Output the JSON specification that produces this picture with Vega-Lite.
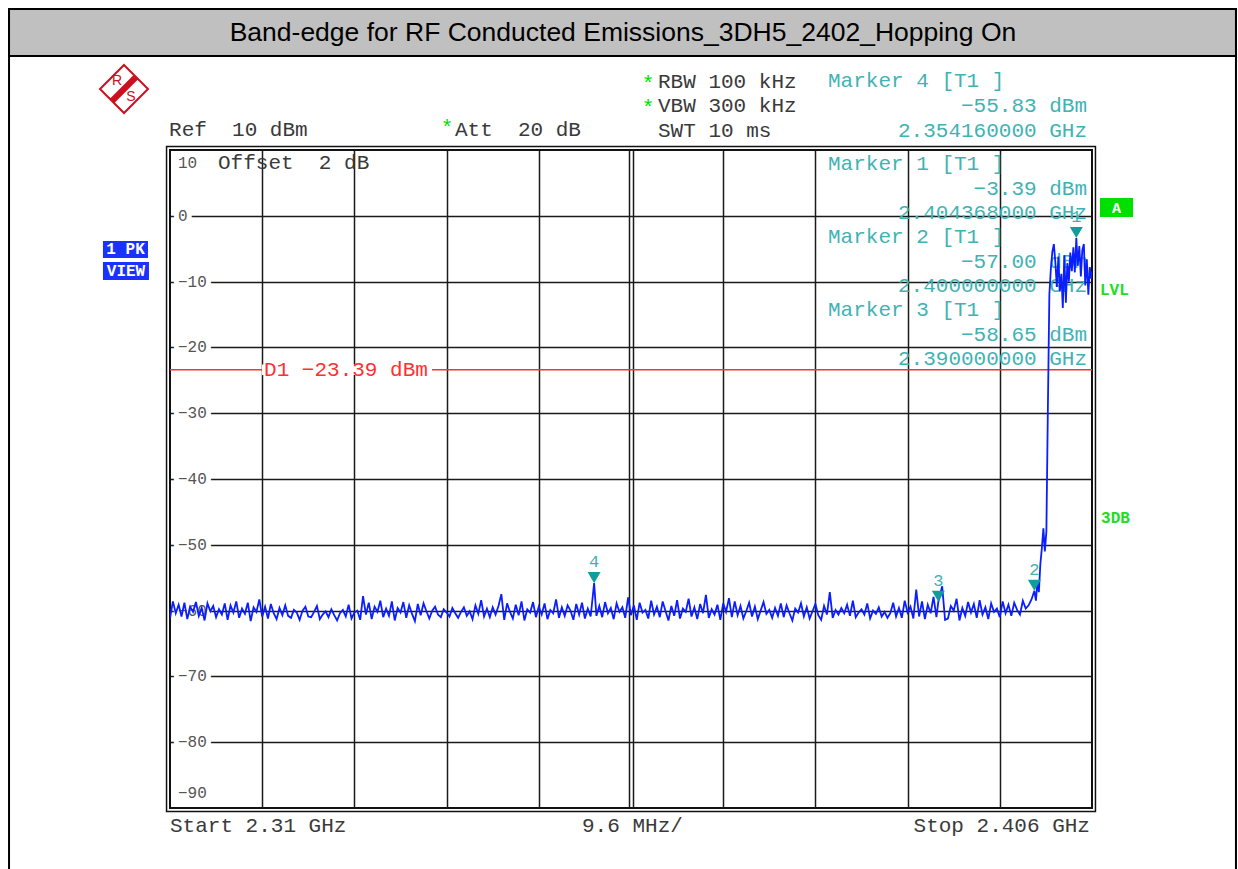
{
"$schema": "https://vega.github.io/schema/vega-lite/v6.json",
"width": 922, "height": 658,
"autosize": {"type": "none"},
"padding": {"left": 170, "top": 150, "right": 146, "bottom": 61},
"background": "#ffffff",
"title": {"text": "Band-edge for RF Conducted Emissions_3DH5_2402_Hopping On", "font": "Liberation Sans", "fontSize": 26.5, "fontWeight": "normal", "color": "#000000", "anchor": "middle", "frame": "group", "offset": -39, "dx": -8},
"config": {"view": {"stroke": "#111111", "strokeWidth": 2, "fill": "#ffffff"}, "text": {"font": "Liberation Mono"}},
"data": {"values": [{}]},
"datasets": {
"markers": [
{"f": 2404.368, "v": -3.39, "n": "1"},
{"f": 2400.0, "v": -57.0, "n": "2"},
{"f": 2390.0, "v": -58.65, "n": "3"},
{"f": 2354.16, "v": -55.83, "n": "4"}
],
"ylabels": [
{"lv": 0, "t": "0"}, {"lv": -10, "t": "−10"}, {"lv": -20, "t": "−20"}, {"lv": -30, "t": "−30"}, {"lv": -40, "t": "−40"},
{"lv": -50, "t": "−50"}, {"lv": -60, "t": "−60"}, {"lv": -70, "t": "−70"}, {"lv": -80, "t": "−80"}
],
"trace": [
{"f":2310.0,"v":-61.2},{"f":2310.3,"v":-58.6},{"f":2310.6,"v":-60.4},{"f":2310.9,"v":-59.1},{"f":2311.2,"v":-60.9},{"f":2311.5,"v":-58.8},{"f":2311.8,"v":-61.3},{"f":2312.1,"v":-59.4},{"f":2312.4,"v":-60.2},{"f":2312.7,"v":-58.7},
{"f":2313.0,"v":-60.8},{"f":2313.3,"v":-59.6},{"f":2313.6,"v":-61.5},{"f":2313.9,"v":-58.9},{"f":2314.2,"v":-60.1},{"f":2314.5,"v":-59.3},{"f":2314.8,"v":-61.0},{"f":2315.1,"v":-59.8},{"f":2315.4,"v":-60.6},{"f":2315.7,"v":-58.9},
{"f":2316.0,"v":-61.4},{"f":2316.3,"v":-59.2},{"f":2316.6,"v":-60.3},{"f":2316.9,"v":-58.6},{"f":2317.2,"v":-61.1},{"f":2317.5,"v":-59.7},{"f":2317.8,"v":-60.5},{"f":2318.1,"v":-58.8},{"f":2318.4,"v":-61.6},{"f":2318.7,"v":-59.5},
{"f":2319.0,"v":-60.2},{"f":2319.3,"v":-58.3},{"f":2319.6,"v":-60.9},{"f":2319.9,"v":-59.4},{"f":2320.2,"v":-61.2},{"f":2320.5,"v":-59.0},{"f":2320.8,"v":-60.4},{"f":2321.1,"v":-61.3},{"f":2321.4,"v":-59.6},{"f":2321.7,"v":-60.7},
{"f":2322.0,"v":-59.2},{"f":2322.3,"v":-60.8},{"f":2322.6,"v":-61.1},{"f":2322.9,"v":-59.9},{"f":2323.2,"v":-60.3},{"f":2323.5,"v":-61.4},{"f":2323.8,"v":-60.0},{"f":2324.1,"v":-59.4},{"f":2324.4,"v":-60.9},{"f":2324.7,"v":-61.0},
{"f":2325.0,"v":-60.2},{"f":2325.3,"v":-59.3},{"f":2325.6,"v":-61.3},{"f":2325.9,"v":-60.6},{"f":2326.2,"v":-60.1},{"f":2326.5,"v":-61.0},{"f":2326.8,"v":-59.8},{"f":2327.1,"v":-60.7},{"f":2327.4,"v":-61.5},{"f":2327.7,"v":-60.4},
{"f":2328.0,"v":-59.9},{"f":2328.3,"v":-60.9},{"f":2328.6,"v":-59.1},{"f":2328.9,"v":-61.2},{"f":2329.2,"v":-60.3},{"f":2329.5,"v":-60.0},{"f":2329.8,"v":-61.4},{"f":2330.1,"v":-57.8},{"f":2330.4,"v":-60.6},{"f":2330.7,"v":-58.8},
{"f":2331.0,"v":-61.3},{"f":2331.3,"v":-59.4},{"f":2331.6,"v":-60.2},{"f":2331.9,"v":-58.5},{"f":2332.2,"v":-61.0},{"f":2332.5,"v":-59.7},{"f":2332.8,"v":-60.8},{"f":2333.1,"v":-58.6},{"f":2333.4,"v":-61.5},{"f":2333.7,"v":-59.6},
{"f":2334.0,"v":-60.3},{"f":2334.3,"v":-58.7},{"f":2334.6,"v":-61.1},{"f":2334.9,"v":-59.2},{"f":2335.2,"v":-60.5},{"f":2335.5,"v":-61.6},{"f":2335.8,"v":-59.0},{"f":2336.1,"v":-60.7},{"f":2336.4,"v":-58.9},{"f":2336.7,"v":-60.1},
{"f":2337.0,"v":-61.2},{"f":2337.3,"v":-60.0},{"f":2337.6,"v":-59.4},{"f":2337.9,"v":-60.6},{"f":2338.2,"v":-61.0},{"f":2338.5,"v":-59.8},{"f":2338.8,"v":-60.3},{"f":2339.1,"v":-60.9},{"f":2339.4,"v":-59.6},{"f":2339.7,"v":-60.4},
{"f":2340.0,"v":-61.1},{"f":2340.3,"v":-60.2},{"f":2340.6,"v":-59.5},{"f":2340.9,"v":-60.8},{"f":2341.2,"v":-60.1},{"f":2341.5,"v":-61.3},{"f":2341.8,"v":-59.2},{"f":2342.1,"v":-60.5},{"f":2342.4,"v":-58.4},{"f":2342.7,"v":-60.9},
{"f":2343.0,"v":-59.7},{"f":2343.3,"v":-61.0},{"f":2343.6,"v":-59.5},{"f":2343.9,"v":-60.6},{"f":2344.2,"v":-59.3},{"f":2344.5,"v":-57.5},{"f":2344.8,"v":-61.4},{"f":2345.1,"v":-58.9},{"f":2345.4,"v":-60.2},{"f":2345.7,"v":-61.2},
{"f":2346.0,"v":-59.1},{"f":2346.3,"v":-60.7},{"f":2346.6,"v":-58.6},{"f":2346.9,"v":-61.5},{"f":2347.2,"v":-59.8},{"f":2347.5,"v":-60.3},{"f":2347.8,"v":-58.7},{"f":2348.1,"v":-61.0},{"f":2348.4,"v":-59.4},{"f":2348.7,"v":-60.6},
{"f":2349.0,"v":-58.9},{"f":2349.3,"v":-61.3},{"f":2349.6,"v":-59.9},{"f":2349.9,"v":-60.4},{"f":2350.2,"v":-58.3},{"f":2350.5,"v":-61.1},{"f":2350.8,"v":-59.5},{"f":2351.1,"v":-60.8},{"f":2351.4,"v":-59.2},{"f":2351.7,"v":-60.0},
{"f":2352.0,"v":-61.4},{"f":2352.3,"v":-59.0},{"f":2352.6,"v":-60.6},{"f":2352.9,"v":-58.8},{"f":2353.2,"v":-61.2},{"f":2353.5,"v":-59.7},{"f":2353.8,"v":-60.9},{"f":2354.16,"v":-55.83},{"f":2354.4,"v":-60.8},{"f":2354.7,"v":-59.3},
{"f":2355.0,"v":-61.0},{"f":2355.3,"v":-58.7},{"f":2355.6,"v":-60.4},{"f":2355.9,"v":-59.6},{"f":2356.2,"v":-61.3},{"f":2356.5,"v":-58.9},{"f":2356.8,"v":-60.2},{"f":2357.1,"v":-59.5},{"f":2357.4,"v":-61.1},{"f":2357.7,"v":-58.0},
{"f":2358.0,"v":-60.7},{"f":2358.3,"v":-59.2},{"f":2358.6,"v":-61.4},{"f":2358.9,"v":-58.8},{"f":2359.2,"v":-60.3},{"f":2359.5,"v":-59.9},{"f":2359.8,"v":-61.2},{"f":2360.1,"v":-58.5},{"f":2360.4,"v":-60.6},{"f":2360.7,"v":-59.4},
{"f":2361.0,"v":-61.0},{"f":2361.3,"v":-58.6},{"f":2361.6,"v":-60.1},{"f":2361.9,"v":-61.5},{"f":2362.2,"v":-59.3},{"f":2362.5,"v":-60.8},{"f":2362.8,"v":-58.4},{"f":2363.1,"v":-61.2},{"f":2363.4,"v":-59.7},{"f":2363.7,"v":-60.2},
{"f":2364.0,"v":-58.2},{"f":2364.3,"v":-60.9},{"f":2364.6,"v":-59.5},{"f":2364.9,"v":-61.3},{"f":2365.2,"v":-59.0},{"f":2365.5,"v":-60.4},{"f":2365.8,"v":-57.6},{"f":2366.1,"v":-61.1},{"f":2366.4,"v":-59.8},{"f":2366.7,"v":-60.6},
{"f":2367.0,"v":-59.1},{"f":2367.3,"v":-61.4},{"f":2367.6,"v":-58.9},{"f":2367.9,"v":-60.2},{"f":2368.2,"v":-58.1},{"f":2368.5,"v":-61.0},{"f":2368.8,"v":-58.6},{"f":2369.1,"v":-60.7},{"f":2369.4,"v":-59.3},{"f":2369.7,"v":-61.2},
{"f":2370.0,"v":-60.1},{"f":2370.3,"v":-58.8},{"f":2370.6,"v":-60.9},{"f":2370.9,"v":-59.4},{"f":2371.2,"v":-61.3},{"f":2371.5,"v":-60.0},{"f":2371.8,"v":-58.7},{"f":2372.1,"v":-60.5},{"f":2372.4,"v":-59.9},{"f":2372.7,"v":-61.1},
{"f":2373.0,"v":-59.6},{"f":2373.3,"v":-60.8},{"f":2373.6,"v":-58.9},{"f":2373.9,"v":-61.0},{"f":2374.2,"v":-59.2},{"f":2374.5,"v":-60.4},{"f":2374.8,"v":-61.5},{"f":2375.1,"v":-59.7},{"f":2375.4,"v":-60.3},{"f":2375.7,"v":-58.9},
{"f":2376.0,"v":-60.9},{"f":2376.3,"v":-59.5},{"f":2376.6,"v":-61.2},{"f":2376.9,"v":-60.1},{"f":2377.2,"v":-59.0},{"f":2377.5,"v":-60.7},{"f":2377.8,"v":-61.4},{"f":2378.1,"v":-59.3},{"f":2378.4,"v":-60.6},{"f":2378.7,"v":-57.2},
{"f":2379.0,"v":-61.1},{"f":2379.3,"v":-59.9},{"f":2379.6,"v":-60.6},{"f":2379.9,"v":-59.6},{"f":2380.2,"v":-60.4},{"f":2380.5,"v":-59.1},{"f":2380.8,"v":-60.8},{"f":2381.1,"v":-58.5},{"f":2381.4,"v":-61.0},{"f":2381.7,"v":-60.3},
{"f":2382.0,"v":-59.8},{"f":2382.3,"v":-60.6},{"f":2382.6,"v":-58.9},{"f":2382.9,"v":-61.2},{"f":2383.2,"v":-60.0},{"f":2383.5,"v":-60.5},{"f":2383.8,"v":-59.5},{"f":2384.1,"v":-60.9},{"f":2384.4,"v":-60.2},{"f":2384.7,"v":-61.1},
{"f":2385.0,"v":-60.4},{"f":2385.3,"v":-58.8},{"f":2385.6,"v":-60.9},{"f":2385.9,"v":-59.6},{"f":2386.2,"v":-61.1},{"f":2386.5,"v":-58.5},{"f":2386.8,"v":-60.3},{"f":2387.1,"v":-59.4},{"f":2387.4,"v":-61.2},{"f":2387.7,"v":-56.8},
{"f":2388.0,"v":-60.9},{"f":2388.3,"v":-58.6},{"f":2388.6,"v":-61.3},{"f":2388.9,"v":-59.1},{"f":2389.2,"v":-60.4},{"f":2389.5,"v":-57.9},{"f":2389.8,"v":-61.0},{"f":2390.0,"v":-58.65},{"f":2390.4,"v":-56.3},{"f":2390.7,"v":-61.4},
{"f":2391.0,"v":-61.2},{"f":2391.3,"v":-59.3},{"f":2391.6,"v":-60.0},{"f":2391.9,"v":-58.2},{"f":2392.2,"v":-61.5},{"f":2392.5,"v":-59.6},{"f":2392.8,"v":-60.8},{"f":2393.1,"v":-58.7},{"f":2393.4,"v":-60.3},{"f":2393.7,"v":-59.0},
{"f":2394.0,"v":-61.1},{"f":2394.3,"v":-58.4},{"f":2394.6,"v":-60.6},{"f":2394.9,"v":-59.5},{"f":2395.2,"v":-61.3},{"f":2395.5,"v":-58.9},{"f":2395.8,"v":-60.2},{"f":2396.1,"v":-59.7},{"f":2396.4,"v":-61.0},{"f":2396.7,"v":-58.6},
{"f":2397.0,"v":-60.4},{"f":2397.3,"v":-59.1},{"f":2397.6,"v":-60.8},{"f":2397.9,"v":-58.8},{"f":2398.2,"v":-59.9},{"f":2398.5,"v":-60.6},{"f":2398.8,"v":-58.5},{"f":2399.1,"v":-59.7},{"f":2399.4,"v":-59.2},{"f":2399.7,"v":-58.3},
{"f":2400.0,"v":-57.0},{"f":2400.16,"v":-58.5},{"f":2400.31,"v":-55.8},{"f":2400.47,"v":-57.2},{"f":2400.62,"v":-53.0},{"f":2400.78,"v":-50.5},{"f":2400.94,"v":-47.5},{"f":2401.09,"v":-51.0},{"f":2401.25,"v":-48.0},{"f":2401.4,"v":-30.0},
{"f":2401.56,"v":-12.0},{"f":2401.72,"v":-8.0},{"f":2401.87,"v":-5.5},{"f":2402.03,"v":-4.3},{"f":2402.18,"v":-7.0},{"f":2402.34,"v":-10.8},{"f":2402.5,"v":-6.2},{"f":2402.65,"v":-11.5},{"f":2402.81,"v":-8.8},{"f":2402.96,"v":-14.0},
{"f":2403.12,"v":-6.0},{"f":2403.28,"v":-13.2},{"f":2403.43,"v":-7.2},{"f":2403.59,"v":-10.0},{"f":2403.74,"v":-5.6},{"f":2403.9,"v":-8.4},{"f":2404.06,"v":-4.8},{"f":2404.21,"v":-8.6},{"f":2404.368,"v":-3.39},{"f":2404.52,"v":-7.6},
{"f":2404.68,"v":-4.6},{"f":2404.84,"v":-9.2},{"f":2404.99,"v":-5.2},{"f":2405.15,"v":-4.3},{"f":2405.3,"v":-10.6},{"f":2405.46,"v":-6.6},{"f":2405.62,"v":-12.0},{"f":2405.77,"v":-7.8},{"f":2405.93,"v":-9.6},{"f":2406.0,"v":-8.5}
]
},
"layer": [
{"mark": {"type": "rect", "filled": false, "color": "#000000", "stroke": "#000000", "strokeWidth": 2}, "encoding": {"x": {"datum": 2293.24}, "x2": {"datum": 2420.99}, "y": {"datum": 31.43}, "y2": {"datum": -104}}},
{"mark": {"type": "rect", "fill": "#c0c0c0", "stroke": "#000000", "strokeWidth": 2}, "encoding": {"x": {"datum": 2293.24}, "x2": {"datum": 2420.99}, "y": {"datum": 31.43}, "y2": {"datum": 24.29}}},
{"mark": {"type": "rect", "filled": false, "color": "#111111", "stroke": "#111111", "strokeWidth": 1.5}, "encoding": {"x": {"datum": 2309.64}, "x2": {"datum": 2406.36}, "y": {"datum": 10.53}, "y2": {"datum": -90.53}}},
{"mark": {"type": "point", "shape": "M0,-1L1,0L0,1L-1,0Z M0.56,-0.44L-0.44,0.56 M0.5,-0.5L-0.5,0.5 M0.44,-0.56L-0.56,0.44", "size": 2304, "filled": false, "stroke": "#cc1020", "strokeWidth": 2, "opacity": 1}, "encoding": {"x": {"datum": 2305.21}, "y": {"datum": 19.27}}},
{"mark": {"type": "text", "text": "R", "font": "Liberation Sans", "fontSize": 14, "color": "#cc1020", "align": "center", "baseline": "middle"}, "encoding": {"x": {"datum": 2304.48}, "y": {"datum": 20.49}}},
{"mark": {"type": "text", "text": "S", "font": "Liberation Sans", "fontSize": 14, "color": "#cc1020", "align": "center", "baseline": "middle"}, "encoding": {"x": {"datum": 2305.94}, "y": {"datum": 18.05}}},
{"mark": {"type": "text", "text": "Ref\u00a0\u00a010 dBm", "fontSize": 21, "color": "#3a3a3a", "align": "left", "baseline": "middle"}, "encoding": {"x": {"datum": 2309.9}, "y": {"datum": 13.04}}},
{"mark": {"type": "text", "text": "*", "fontSize": 21, "color": "#00dd00", "align": "center", "baseline": "middle", "dy": -2}, "encoding": {"x": {"datum": 2338.84}, "y": {"datum": 13.04}}},
{"mark": {"type": "text", "text": "Att\u00a0\u00a020 dB", "fontSize": 21, "color": "#3a3a3a", "align": "left", "baseline": "middle"}, "encoding": {"x": {"datum": 2339.67}, "y": {"datum": 13.04}}},
{"mark": {"type": "text", "text": ["*", "*"], "fontSize": 21, "lineHeight": 24.5, "color": "#00dd00", "align": "center", "baseline": "top", "dy": 2}, "encoding": {"x": {"datum": 2359.77}, "y": {"datum": 22.02}}},
{"mark": {"type": "text", "text": ["RBW 100 kHz", "VBW 300 kHz", "SWT 10 ms"], "fontSize": 21, "lineHeight": 24.5, "color": "#3a3a3a", "align": "left", "baseline": "top"}, "encoding": {"x": {"datum": 2360.81}, "y": {"datum": 22.02}}},
{"mark": {"type": "text", "text": "Marker 4 [T1 ]", "fontSize": 21, "color": "#3fb3b3", "align": "left", "baseline": "middle"}, "encoding": {"x": {"datum": 2378.51}, "y": {"datum": 20.49}}},
{"mark": {"type": "text", "text": ["−55.83 dBm", "2.354160000 GHz"], "fontSize": 21, "lineHeight": 25, "color": "#3fb3b3", "align": "right", "baseline": "top"}, "encoding": {"x": {"datum": 2405.48}, "y": {"datum": 18.37}}},
{"mark": {"type": "text", "text": "Offset\u00a0\u00a02 dB", "fontSize": 21, "color": "#3a3a3a", "align": "left", "baseline": "middle"}, "encoding": {"x": {"datum": 2315.0}, "y": {"datum": 8.02}}},
{"mark": {"type": "text", "text": "10", "fontSize": 16, "color": "#555555", "align": "left", "baseline": "middle"}, "encoding": {"x": {"datum": 2310.83}, "y": {"datum": 8.02}}},
{"mark": {"type": "text", "text": "−90", "fontSize": 16, "color": "#555555", "align": "left", "baseline": "middle"}, "encoding": {"x": {"datum": 2310.83}, "y": {"datum": -87.72}}},
{"data": {"name": "ylabels"}, "mark": {"type": "text", "fontSize": 16, "color": "#ffffff", "stroke": "#ffffff", "strokeWidth": 10, "strokeJoin": "round", "align": "left", "baseline": "middle"}, "encoding": {"x": {"datum": 2310.83}, "y": {"field": "lv", "type": "quantitative"}, "text": {"field": "t"}}},
{"data": {"name": "ylabels"}, "mark": {"type": "text", "fontSize": 16, "color": "#555555", "align": "left", "baseline": "middle"}, "encoding": {"x": {"datum": 2310.83}, "y": {"field": "lv", "type": "quantitative"}, "text": {"field": "t"}}},
{"mark": {"type": "rule", "color": "#ff3030", "strokeWidth": 1.5}, "encoding": {"y": {"datum": -23.39}}},
{"mark": {"type": "rect", "fill": "#ffffff"}, "encoding": {"x": {"datum": 2319.58}, "x2": {"datum": 2337.28}, "y": {"datum": -22.6}, "y2": {"datum": -24.2}}},
{"mark": {"type": "text", "text": "D1 −23.39 dBm", "fontSize": 21, "color": "#ff3030", "align": "left", "baseline": "middle"}, "encoding": {"x": {"datum": 2319.79}, "y": {"datum": -23.39}}},
{"mark": {"type": "text", "text": "Marker 1 [T1 ]", "fontSize": 21, "color": "#3fb3b3", "align": "left", "baseline": "middle"}, "encoding": {"x": {"datum": 2378.51}, "y": {"datum": 7.87}}},
{"mark": {"type": "text", "text": "Marker 2 [T1 ]", "fontSize": 21, "color": "#3fb3b3", "align": "left", "baseline": "middle"}, "encoding": {"x": {"datum": 2378.51}, "y": {"datum": -3.22}}},
{"mark": {"type": "text", "text": "Marker 3 [T1 ]", "fontSize": 21, "color": "#3fb3b3", "align": "left", "baseline": "middle"}, "encoding": {"x": {"datum": 2378.51}, "y": {"datum": -14.32}}},
{"mark": {"type": "text", "text": ["−3.39 dBm", "2.404368000 GHz"], "fontSize": 21, "lineHeight": 24.3, "color": "#3fb3b3", "align": "right", "baseline": "top"}, "encoding": {"x": {"datum": 2405.48}, "y": {"datum": 5.76}}},
{"mark": {"type": "text", "text": ["−57.00 dBm", "2.400000000 GHz"], "fontSize": 21, "lineHeight": 24.3, "color": "#3fb3b3", "align": "right", "baseline": "top"}, "encoding": {"x": {"datum": 2405.48}, "y": {"datum": -5.33}}},
{"mark": {"type": "text", "text": ["−58.65 dBm", "2.390000000 GHz"], "fontSize": 21, "lineHeight": 24.3, "color": "#3fb3b3", "align": "right", "baseline": "top"}, "encoding": {"x": {"datum": 2405.48}, "y": {"datum": -16.43}}},
{"mark": {"type": "rect", "fill": "#00e000"}, "encoding": {"x": {"datum": 2406.83}, "x2": {"datum": 2410.27}, "y": {"datum": 2.705}, "y2": {"datum": -0.18}}},
{"mark": {"type": "text", "text": "A", "fontSize": 15, "fontWeight": "bold", "color": "#ffffff", "align": "center", "baseline": "middle"}, "encoding": {"x": {"datum": 2408.55}, "y": {"datum": 1.26}}},
{"mark": {"type": "text", "text": "LVL", "fontSize": 16, "fontWeight": "bold", "color": "#22dd22", "align": "left", "baseline": "middle"}, "encoding": {"x": {"datum": 2406.83}, "y": {"datum": -11.28}}},
{"mark": {"type": "text", "text": "3DB", "fontSize": 16, "fontWeight": "bold", "color": "#22dd22", "align": "left", "baseline": "middle"}, "encoding": {"x": {"datum": 2406.94}, "y": {"datum": -45.93}}},
{"mark": {"type": "rect", "fill": "#1a32ff"}, "encoding": {"x": {"datum": 2303.02}, "x2": {"datum": 2307.71}, "y": {"datum": -3.83}, "y2": {"datum": -6.41}}},
{"mark": {"type": "rect", "fill": "#1a32ff"}, "encoding": {"x": {"datum": 2303.02}, "x2": {"datum": 2307.81}, "y": {"datum": -7.02}, "y2": {"datum": -9.76}}},
{"mark": {"type": "text", "text": "1 PK", "fontSize": 16, "fontWeight": "bold", "color": "#ffffff", "align": "center", "baseline": "middle"}, "encoding": {"x": {"datum": 2305.37}, "y": {"datum": -5.12}}},
{"mark": {"type": "text", "text": "VIEW", "fontSize": 16, "fontWeight": "bold", "color": "#ffffff", "align": "center", "baseline": "middle"}, "encoding": {"x": {"datum": 2305.42}, "y": {"datum": -8.39}}},
{"mark": {"type": "text", "text": "Start 2.31 GHz", "fontSize": 21, "color": "#3a3a3a", "align": "left", "baseline": "middle"}, "encoding": {"x": {"datum": 2310.0}, "y": {"datum": -92.74}}},
{"mark": {"type": "text", "text": "9.6 MHz/", "fontSize": 21, "color": "#3a3a3a", "align": "left", "baseline": "middle"}, "encoding": {"x": {"datum": 2352.9}, "y": {"datum": -92.74}}},
{"mark": {"type": "text", "text": "Stop 2.406 GHz", "fontSize": 21, "color": "#3a3a3a", "align": "right", "baseline": "middle"}, "encoding": {"x": {"datum": 2405.79}, "y": {"datum": -92.74}}},
{"data": {"name": "trace"}, "mark": {"type": "line", "color": "#0a1eff", "strokeWidth": 1.8, "clip": true},
 "encoding": {
  "x": {"field": "f", "type": "quantitative", "scale": {"domain": [2310, 2406], "nice": false, "zero": false},
        "axis": {"values": [2319.6, 2329.2, 2338.8, 2348.4, 2357.79, 2358.21, 2367.6, 2377.2, 2386.8, 2396.4], "grid": true, "gridColor": "#1a1a1a", "gridWidth": 1.5, "gridOpacity": 1, "labels": false, "ticks": false, "domain": false, "title": null}},
  "y": {"field": "v", "type": "quantitative", "scale": {"domain": [-90, 10], "nice": false, "zero": false},
        "axis": {"values": [0, -10, -20, -30, -40, -50, -60, -70, -80], "grid": true, "gridColor": "#1a1a1a", "gridWidth": 1.5, "gridOpacity": 1, "labels": false, "ticks": false, "domain": false, "title": null}}
 }},
{"data": {"name": "markers"}, "mark": {"type": "point", "shape": "M-1,-1.7L1,-1.7L0,0Z", "size": 169, "filled": true, "color": "#139c9c", "opacity": 1}, "encoding": {"x": {"field": "f", "type": "quantitative"}, "y": {"field": "v", "type": "quantitative"}}},
{"data": {"name": "markers"}, "mark": {"type": "text", "dy": -21, "fontSize": 17, "color": "#3fb3b3", "align": "center", "baseline": "middle"}, "encoding": {"x": {"field": "f", "type": "quantitative"}, "y": {"field": "v", "type": "quantitative"}, "text": {"field": "n"}}}
]
}
